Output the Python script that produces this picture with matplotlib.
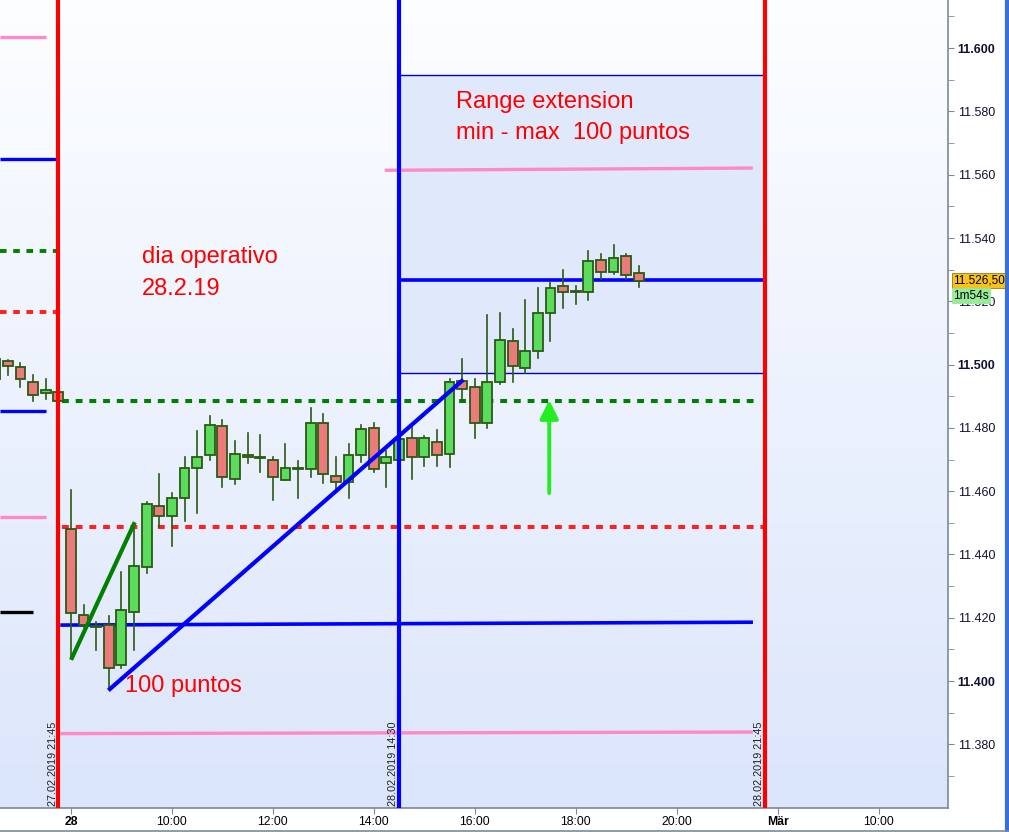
import matplotlib
matplotlib.use("Agg")
import matplotlib.pyplot as plt
import numpy as np
from matplotlib.patches import Rectangle
from matplotlib.lines import Line2D

plt.rcParams['font.family'] = ['Liberation Sans', 'DejaVu Sans']

# 15-minute bars, x = bar index (0 = 28.02 08:00)
bar_idx = list(range(-6, 46))
opens = [11495.4, 11501.2, 11499.1, 11494.6, 11490.9, 11491.2,
         11448.2, 11420.8, 11417.2, 11417.7, 11405.1, 11421.9, 11436.1, 11455.3,
         11452.2, 11457.7, 11467.2, 11471.3, 11480.7, 11463.7, 11471.3, 11470.6,
         11469.7, 11463.4, 11467.1, 11466.9, 11481.4, 11464.7, 11462.8, 11471.3,
         11480.1, 11468.8, 11469.7, 11476.7, 11470.7, 11475.7, 11471.9, 11494.7,
         11492.8, 11481.4, 11494.4, 11507.3, 11499.0, 11504.2, 11516.2, 11524.7,
         11523.0, 11522.8, 11533.2, 11529.1, 11534.2, 11528.8]
highs = [11502.0, 11501.5, 11500.6, 11496.7, 11495.3, 11491.6,
         11460.3, 11424.0, 11418.7, 11420.5, 11434.5, 11449.3, 11456.5, 11465.4,
         11459.3, 11470.7, 11479.0, 11483.7, 11482.5, 11475.8, 11478.4, 11477.7,
         11470.7, 11474.9, 11469.5, 11486.2, 11484.4, 11470.7, 11474.8, 11480.9,
         11481.7, 11472.8, 11478.5, 11480.3, 11477.4, 11479.3, 11495.3, 11501.7,
         11495.3, 11515.6, 11516.3, 11511.2, 11520.4, 11524.2, 11526.2, 11529.8,
         11524.7, 11535.8, 11535.1, 11537.8, 11535.1, 11531.0]
lows = [11495.0, 11496.7, 11492.8, 11488.6, 11489.2, 11488.2,
        11407.2, 11417.0, 11409.8, 11397.7, 11404.0, 11409.8, 11434.0, 11448.8,
        11442.7, 11450.6, 11453.0, 11470.0, 11461.2, 11462.2, 11468.9, 11466.1,
        11457.2, 11463.4, 11457.7, 11464.6, 11462.5, 11460.3, 11457.7, 11469.3,
        11466.0, 11461.2, 11469.5, 11463.7, 11468.0, 11468.0, 11467.7, 11488.6,
        11476.7, 11480.0, 11494.0, 11494.6, 11497.3, 11502.1, 11507.5, 11517.9,
        11519.2, 11520.5, 11527.2, 11528.6, 11527.2, 11524.6]
closes = [11501.7, 11499.7, 11495.3, 11490.3, 11491.9, 11488.5,
          11421.4, 11417.7, 11417.0, 11404.0, 11422.4, 11436.3, 11455.8, 11452.2,
          11457.7, 11467.2, 11470.7, 11480.9, 11464.4, 11471.9, 11470.7, 11470.6,
          11464.4, 11467.2, 11467.1, 11481.4, 11465.3, 11462.8, 11471.3, 11479.8,
          11466.9, 11470.7, 11476.4, 11470.7, 11476.7, 11471.3, 11494.4, 11492.2,
          11481.7, 11494.4, 11507.7, 11499.6, 11504.2, 11516.2, 11524.1, 11522.8,
          11523.0, 11532.6, 11529.1, 11533.6, 11528.2, 11526.5]

# axis ticks
x_tick_pos = [0, 8, 16, 24, 32, 40, 48, 56, 64]
x_tick_labels = ['28', '10:00', '12:00', '14:00', '16:00', '18:00', '20:00', 'Mär', '10:00']
y_ticks = [11380, 11400, 11420, 11440, 11460, 11480, 11500, 11520, 11540, 11560, 11580, 11600]

# session markers (bar index) and their labels
session_lines = [(-1, 'red', '27.02.2019 21:45'),
                 (26, 'blue', '28.02.2019 14:30'),
                 (55, 'red', '28.02.2019 21:45')]

# previous day levels: (price, x_end, colour, style)
prev_levels = [(11603.5, -2.0, '#ff88c8', '-'),
               (11564.9, -1.0, 'blue', '-'),
               (11536.0, -1.0, 'green', 'dash'),
               (11516.6, -1.0, '#ff2020', 'dash'),
               (11485.3, -2.0, 'blue', '-'),
               (11451.8, -2.0, '#ff88c8', '-'),
               (11421.8, -3.0, 'black', '-')]

# range extension box
box_low, box_high = 11497.3, 11591.5

fig = plt.figure(figsize=(10.09, 8.32), dpi=100, facecolor='white')
ax = fig.add_axes([0, 24 / 832, 948 / 1009, 808 / 832])
ax.set_xlim(-5.62, 69.5)
ax.set_ylim(11359.9, 11615.2)

# gradient background
grad = np.linspace(0, 1, 256).reshape(-1, 1)
top_c = np.array([0.99, 0.995, 1.0])
bot_c = np.array([0.86, 0.90, 0.985])
img = top_c * (1 - grad[..., None]) + bot_c * grad[..., None]
ax.imshow(img, extent=[0, 1, 0, 1], transform=ax.transAxes, aspect='auto', zorder=0)

ax.add_patch(Rectangle((26, box_low), 29, box_high - box_low, facecolor='#e0e8fb',
                       edgecolor='none', zorder=0.5))
ax.plot([26, 55], [box_high, box_high], color='#0000cc', lw=1, zorder=0.6)
ax.plot([26, 55], [box_low, box_low], color='#0000cc', lw=1, zorder=0.6)

dash = (0, (1.7, 1.7))
for price, xend, col, st in prev_levels:
    ax.plot([-5.62, xend], [price, price], color=col, lw=2.8 if st == 'dash' else 2.4,
            linestyle=dash if st == 'dash' else '-', zorder=2, solid_capstyle='butt')

# current day levels
ax.plot([-0.7, 54.2], [11488.5, 11488.5], color='green', lw=2.9, linestyle=dash, zorder=2)
ax.plot([-0.7, 54.9], [11448.7, 11448.7], color='#ff2020', lw=2.9, linestyle=dash, zorder=2)
ax.plot([-0.7, 53.9], [11417.7, 11418.6], color='blue', lw=2.6, zorder=2)
ax.plot([-0.7, 53.9], [11383.4, 11383.9], color='#ff88c8', lw=2.4, zorder=2)
ax.plot([25.0, 53.9], [11561.4, 11562.1], color='#ff88c8', lw=2.4, zorder=2)
ax.plot([26, 55], [11526.7, 11526.7], color='blue', lw=2.6, zorder=2)

# candles
for i, o, h, l, c in zip(bar_idx, opens, highs, lows, closes):
    up = c >= o
    ax.plot([i, i], [l, h], color='#2a5a14', lw=1.2, zorder=3)
    ax.bar(i, max(abs(c - o), 0.35), bottom=min(o, c), width=0.78,
           color='#5cdc5c' if up else '#ec7a7a', edgecolor='#2a5a14', linewidth=1.3, zorder=3.5)

# session verticals
for xpos, col, lab in session_lines:
    ax.axvline(xpos, color=col, lw=3, zorder=4)
    ax.text(xpos - 0.45, 0.002, lab, transform=ax.get_xaxis_transform(), rotation=90,
            ha='center', va='bottom', fontsize=7.8, color='#222222', zorder=5)

# trend lines
ax.plot([0.08, 4.99], [11407.3, 11449.6], color='#008000', lw=3, zorder=4.5)
ax.plot([3.09, 30.97], [11397.5, 11494.8], color='blue', lw=3, zorder=4.5)

# green arrow
ax.annotate('', xy=(37.9, 11488.8), xytext=(37.9, 11459.4),
            arrowprops=dict(arrowstyle='-|>', color='#22ee22', lw=2.8, mutation_scale=28,
                            shrinkA=0, shrinkB=0), zorder=5)

# annotations
tk = dict(color='red', fontsize=17, va='center', ha='left', zorder=6)
ax.text(5.62, 11534.0, 'dia operativo', **tk)
ax.text(5.62, 11523.9, '28.2.19', **tk)
ax.text(30.5, 11582.9, 'Range extension', **tk)
ax.text(30.5, 11573.1, 'min - max  100 puntos', **tk)
ax.text(4.28, 11398.4, '100 puntos', **tk)

# axes styling
for s in ['top', 'left']:
    ax.spines[s].set_visible(False)
for s in ['bottom', 'right']:
    ax.spines[s].set_color('#7a8a99')
    ax.spines[s].set_linewidth(1.2)
ax.yaxis.tick_right()
ax.set_yticks(y_ticks)
ax.set_yticklabels([f"{v // 1000}.{v % 1000:03d}" for v in y_ticks])
ax.set_yticks(np.arange(11370, 11615, 20), minor=True)
for v, lab in zip(y_ticks, ax.get_yticklabels()):
    if v % 100 == 0:
        lab.set_fontweight('bold')
        lab.set_fontsize(10.5)
ax.tick_params(axis='y', which='both', direction='out', length=4, color='#7a8a99',
               labelsize=9, pad=3, labelcolor='#111133')
ax.set_xticks(x_tick_pos)
ax.set_xticklabels(x_tick_labels)
for lab in ax.get_xticklabels():
    if lab.get_text() in ('28', 'Mär'):
        lab.set_fontweight('bold')
        lab.set_fontsize(10)
ax.tick_params(axis='x', direction='out', length=4, color='#7a8a99', labelsize=8.8, pad=2)

# price badges
ax.text(1.0055, 11526.6, '11.526,50', transform=ax.get_yaxis_transform(), fontsize=8.5,
        va='center', ha='left', clip_on=False, zorder=10,
        bbox=dict(boxstyle='square,pad=0.12', facecolor='#f7c21a', edgecolor='#9a7a10', lw=0.6))
ax.text(1.0055, 11521.8, '1m54s', transform=ax.get_yaxis_transform(), fontsize=8.5,
        va='center', ha='left', clip_on=False, zorder=10,
        bbox=dict(boxstyle='square,pad=0.12', facecolor='#98ec98', edgecolor='#98ec98', lw=0.6))

# window frame
fig.add_artist(Line2D([1006.5 / 1009, 1006.5 / 1009], [0, 1], color='#3a6fd8', lw=3))
fig.add_artist(Line2D([0, 1], [1.5 / 832, 1.5 / 832], color='#7a8a99', lw=1.2))

fig.savefig('out.png', dpi=100, facecolor='white')
